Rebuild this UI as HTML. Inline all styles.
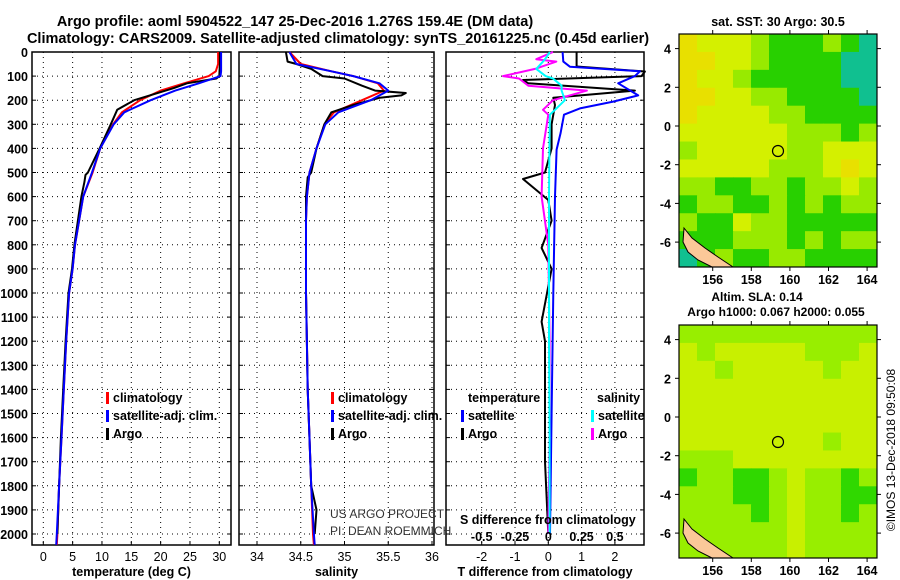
<!DOCTYPE html>
<html><head><meta charset="utf-8"><style>
body{margin:0;background:#fff;}
svg{display:block;font-family:"Liberation Sans",Arial,sans-serif;}
</style></head><body>
<svg id="c" width="900" height="580" viewBox="0 0 900 580" xmlns="http://www.w3.org/2000/svg">
<text font-weight="bold" x="295" y="26" font-size="14.5" text-anchor="middle">Argo profile: aoml 5904522_147 25-Dec-2016 1.276S 159.4E (DM data)</text>
<text font-weight="bold" x="338" y="43" font-size="14.5" text-anchor="middle">Climatology: CARS2009. Satellite-adjusted climatology: synTS_20161225.nc (0.45d earlier)</text>
<g id="g"></g>
</svg>
<script>
// ---------- data ----------
const depthTicks=[0,100,200,300,400,500,600,700,800,900,1000,1100,1200,1300,1400,1500,1600,1700,1800,1900,2000];
const tTicks=[0,5,10,15,20,25,30];
const sTicks=[34,34.5,35,35.5,36];
const dTTicks=[-2,-1,0,1,2];
const dSTicks=[-0.5,-0.25,0,0.25,0.5];
const dSTickLabels=["-0.5","-0.25","0","0.25","0.5"];

const climDepth=[0,50,80,100,130,160,200,250,300,400,500,600,700,800,900,1000,1200,1400,1600,1800,2000,2045];
const climT=[29.8,29.8,29.4,28.2,24,20,16.5,13.4,11.9,9.7,8.4,6.8,6.1,5.4,5.0,4.4,3.9,3.5,3.1,2.7,2.4,2.3];
const satT=[30.3,30.3,30.3,30.2,26.5,22.5,18.3,13.8,12.0,9.7,8.3,6.8,6.1,5.4,5.0,4.4,3.9,3.5,3.1,2.7,2.3,2.2];
const argoDepth=[0,50,100,110,130,150,200,240,300,400,500,510,540,600,700,800,900,1000,1200,1400,1600,1800,2000];
const argoT=[30.1,30.1,30.0,29.5,24.5,22.2,15.5,12.6,11.5,9.6,7.6,7.2,7.0,6.5,5.9,5.3,4.9,4.3,3.8,3.4,3.0,2.7,2.4];

const climS=[34.37,34.5,34.85,35.1,35.38,35.45,35.2,34.88,34.77,34.68,34.6,34.57,34.56,34.56,34.56,34.56,34.57,34.58,34.6,34.62,34.64,34.65];
const satS=[34.37,34.45,34.85,35.1,35.4,35.5,35.3,34.93,34.78,34.68,34.6,34.57,34.56,34.56,34.56,34.56,34.57,34.58,34.6,34.62,34.65,34.66];
const argoSDepth=[0,40,50,70,100,110,140,160,170,180,190,220,250,300,400,500,520,600,800,1000,1400,1800,1900,2000];
const argoS=[34.33,34.35,34.45,34.62,34.75,35.0,35.2,35.35,35.7,35.65,35.4,35.1,34.85,34.77,34.68,34.62,34.58,34.56,34.56,34.56,34.58,34.62,34.68,34.66];

const dTDepth=[0,20,60,81,100,116,130,160,190,220,300,400,500,527,614,700,813,900,1119,1200,1500,1700,2000];
const argoDT=[0.85,0.85,0.85,2.9,2.8,-0.76,-0.6,2.6,0.15,0.2,0.1,0.1,-0.1,-0.76,0.0,0.1,-0.2,0.1,-0.2,-0.1,-0.1,-0.1,0.0];
const satDTDepth=[0,40,61,80,100,130,180,206,234,260,336,405,600,1000,1500,2000];
const satDT=[0.43,0.45,0.65,2.75,2.6,2.1,2.7,1.95,0.95,0.47,0.37,0.25,0.2,0.15,0.1,0.05];
const dSDepth=[0,30,40,70,100,110,140,160,200,240,260,400,600,800,1200,1600,2000];
const argoDS=[0.035,-0.09,0.06,-0.1,-0.34,-0.22,-0.15,0.29,0.035,-0.04,0.0,-0.04,-0.05,0.0,0.01,0.01,0.0];
const satDS=[0.012,-0.025,-0.04,-0.09,-0.02,0.035,0.1,0.1,0.125,0.05,0.012,0.008,0.005,0.005,0.005,0.01,0.01];

const sstRows=["OYYYLGGGLGT","OOYYLGGGGTT","OYYLGGGGGTT","OOYYLLGGGGT","OYYYYLLGGGG","YYYYYYLLLGL","LYYYYYLLYYY","YYYYYLLLYOY","LLGGLLGLLYL","GLLGGLGLGLL","LGGYLLGGGGG","GGGLLLGLGLL","TGLGGLLGGGG"];
const slaRows=["LLLLLLLLLLL","YLYYYYYLLLY","YYLYYYYYLYY","YYYYYYYYYYY","YYYYYYYYYYY","YYYYYYYYYYY","YYYYYYYYLYY","LLLYYYYYYYY","GLLGGLYLLGL","LLLGGLYLLGG","LLLLGLYLLGL","LLLLLLYLLLL","LLLLLLYLLLL"];
const latTicks=[4,2,0,-2,-4,-6];
const lonTicks=[156,158,160,162,164];

// ---------- scales ----------
const yd=d=>52+d*0.241;
const tx=v=>43.3+v*5.867;
const sx=v=>257+(v-34)*87.5;
const dx=v=>548.3+v*33.3;
const dsx=v=>548.3+v*133.2;
const NS="http://www.w3.org/2000/svg";
const G=document.getElementById('g');
function mk(tag,at,parent){const e=document.createElementNS(NS,tag);for(const k in at)e.setAttribute(k,at[k]);(parent||G).appendChild(e);return e;}
function txt(s,x,y,size,anchor,bold){const e=mk('text',{x:x,y:y,'font-size':size,'text-anchor':anchor||'start'});if(bold)e.setAttribute('font-weight','bold');e.textContent=s;return e;}

// ---------- profile panels ----------
const panels=[{x0:32,x1:231,xs:tx,ticks:tTicks,lab:"temperature (deg C)",name:'temperature'},
{x0:239,x1:434,xs:sx,ticks:sTicks,lab:"salinity",name:'salinity'},
{x0:446,x1:644,xs:dx,ticks:dTTicks,lab:"T difference from climatology",name:'difference'}];
const YB=545;
panels.forEach((p,i)=>{
 const r=mk('rect',{x:p.x0,y:52,width:p.x1-p.x0,height:YB-52,fill:'none',stroke:'#000','stroke-width':1.5});
 
 
 depthTicks.forEach(d=>{const l=mk('line',{x1:p.x0,x2:p.x1,y1:yd(d),y2:yd(d),stroke:'#000','stroke-dasharray':'1 4'});
  
  
  mk('line',{x1:p.x0,x2:p.x0+4,y1:yd(d),y2:yd(d),stroke:'#000'});mk('line',{x1:p.x1-4,x2:p.x1,y1:yd(d),y2:yd(d),stroke:'#000'});});
 p.ticks.forEach(v=>{const X=p.xs(v);const l=mk('line',{x1:X,x2:X,y1:52,y2:YB,stroke:'#000','stroke-dasharray':'1 4'});
  
  
  mk('line',{x1:X,x2:X,y1:YB-4,y2:YB,stroke:'#000'});
  const t=txt(String(v),X,561,12.5,'middle',false);
  
  });
 const a=txt(p.lab,(p.x0+p.x1)/2,576,12.5,'middle',true);
 
 
});
depthTicks.forEach(d=>{const t=txt(String(d),28,yd(d)+5,12.5,'end',true);
 
 });

function series(vals,depths,xs,color,name,w){
 const pts=vals.map((v,i)=>xs(v).toFixed(1)+','+yd(depths[i]).toFixed(1)).join(' ');
 const e=mk('polyline',{points:pts,fill:'none',stroke:color,'stroke-width':w||2,'stroke-linejoin':'round'});
 
 
}
series(climT,climDepth,tx,'#f00','temperature-climatology-line');
series(argoT,argoDepth,tx,'#000','temperature-argo-line');
series(satT,climDepth,tx,'#00f','temperature-satellite-line');
series(climS,climDepth,sx,'#f00','salinity-climatology-line');
series(argoS,argoSDepth,sx,'#000','salinity-argo-line');
series(satS,climDepth,sx,'#00f','salinity-satellite-line');
series(argoDT,dTDepth,dx,'#000','t-diff-argo-line');
series(satDT,satDTDepth,dx,'#00f','t-diff-satellite-line');
series(argoDS,dSDepth,dsx,'#f0f','s-diff-argo-line');
series(satDS,dSDepth,dsx,'#0ff','s-diff-satellite-line');

// legends
function leg(x,y,color,label,name){const b=mk('rect',{x:x,y:y-10,width:3,height:12,fill:color});
 const t=txt(label,x+7,y,12.5,'start',true);
 
 }
leg(106,402,'#f00','climatology','legend-climatology');
leg(106,420,'#00f','satellite-adj. clim.','legend-satellite');
leg(106,438,'#000','Argo','legend-argo');
leg(331,402,'#f00','climatology','legend-climatology-s');
leg(331,420,'#00f','satellite-adj. clim.','legend-satellite-s');
leg(331,438,'#000','Argo','legend-argo-s');
txt('temperature',468,402,12.5,'start',true);
txt('salinity',597,402,12.5,'start',true);
leg(461,420,'#00f','satellite','legend-t-satellite');
leg(461,438,'#000','Argo','legend-t-argo');
leg(591,420,'#0ff','satellite','legend-s-satellite');
leg(591,438,'#f0f','Argo','legend-s-argo');
txt('US ARGO PROJECT',330,518,12,'start',false).setAttribute('fill','#333');
txt('PI: DEAN ROEMMICH',330,535,12,'start',false).setAttribute('fill','#333');
txt('S difference from climatology',460,524,12.5,'start',true);
dSTicks.forEach((v,i)=>{const t=txt(dSTickLabels[i],dsx(v),541,12.5,'middle',true);
 
 });

// ---------- maps ----------
const COL={O:'#e8e000',Y:'#d4f000',L:'#98ea00',G:'#28d000',T:'#10c090'};
const COL2={Y:'#c8f000',L:'#98ee00',G:'#30d800'};
function map(y0,rows,cols,name){
 const x0=679,x1=877,y1=y0+233;
 const cw=(x1-x0)/rows[0].length,ch=(y1-y0)/rows.length;
 rows.forEach((r,i)=>{for(let j=0;j<r.length;j++){const c=mk('rect',{x:x0+j*cw,y:y0+i*ch,width:cw+0.5,height:ch+0.5,fill:cols[r[j]]});
  
  }});
 const oy=y0-34;
 mk('polygon',{points:[[684,228],[692,238],[705,248],[718,257],[733,267],[712,267],[698,260],[688,252],[683,242]].map(p=>p[0]+','+(p[1]+oy)).join(' '),fill:'#fbc898',stroke:'#000','stroke-width':1});
 const circ=mk('circle',{cx:778,cy:y0+117,r:5.5,fill:'none',stroke:'#000','stroke-width':1.2});
 
 
 const fr=mk('rect',{x:x0,y:y0,width:x1-x0,height:y1-y0,fill:'none',stroke:'#000','stroke-width':1.2});
 
 
 latTicks.forEach(v=>{const Y=y0+92-v*19.35;mk('line',{x1:x0-4,x2:x0,y1:Y,y2:Y,stroke:'#000'});mk('line',{x1:x1,x2:x1+4,y1:Y,y2:Y,stroke:'#000'});
  const t=txt(String(v),x0-8,Y+5,12.5,'end',true);
  
  });
 lonTicks.forEach(v=>{const X=712.7+(v-156)*19.3;mk('line',{x1:X,x2:X,y1:y1,y2:y1+4,stroke:'#000'});mk('line',{x1:X,x2:X,y1:y0-4,y2:y0,stroke:'#000'});
  const t=txt(String(v),X,y1+17,12.5,'middle',true);
  
  });
}
map(34,sstRows,COL,'sst-map');
map(325,slaRows,COL2,'sla-map');
txt('sat. SST: 30 Argo: 30.5',778,26,12.5,'middle',true);
txt('Altim. SLA: 0.14',757,301,12,'middle',true);
txt('Argo h1000: 0.067 h2000: 0.055',776,316,12,'middle',true);
const cr=txt('©IMOS 13-Dec-2018 09:50:08',0,0,12,'middle',false);
cr.setAttribute('transform','translate(895,450) rotate(-90)');


</script>
</body></html>
